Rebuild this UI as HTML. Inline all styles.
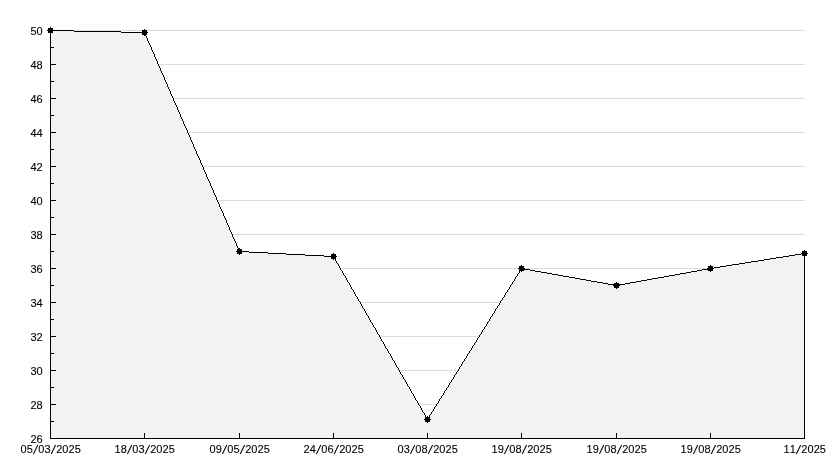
<!DOCTYPE html>
<html><head><meta charset="utf-8"><title>Chart</title>
<style>
html,body{margin:0;padding:0;background:#fff;}
body{width:834px;height:468px;overflow:hidden;}
svg{display:block;will-change:transform;}
text{font-family:"Liberation Sans",sans-serif;font-size:11px;fill:#000;stroke:#000;stroke-width:0.1px;}
</style></head><body>
<svg width="834" height="468" viewBox="0 0 834 468">
<rect x="0" y="0" width="834" height="468" fill="#ffffff"/>
<g fill="#dcdcdc" shape-rendering="crispEdges">
<rect x="50" y="404" width="755" height="1"/>
<rect x="50" y="370" width="755" height="1"/>
<rect x="50" y="336" width="755" height="1"/>
<rect x="50" y="302" width="755" height="1"/>
<rect x="50" y="268" width="755" height="1"/>
<rect x="50" y="234" width="755" height="1"/>
<rect x="50" y="200" width="755" height="1"/>
<rect x="50" y="166" width="755" height="1"/>
<rect x="50" y="132" width="755" height="1"/>
<rect x="50" y="98" width="755" height="1"/>
<rect x="50" y="64" width="755" height="1"/>
<rect x="50" y="30" width="755" height="1"/>
</g>
<polygon points="50.5,30.5 144.5,32.5 239.5,251.5 333.5,256.5 427.5,419.5 521.5,268.5 616.5,285.5 710.5,268.5 804.5,253.5 804.5,438.5 50.5,438.5" fill="#f2f2f2" stroke="none" shape-rendering="crispEdges"/>
<g fill="#000" shape-rendering="crispEdges">
<rect x="804" y="253" width="1" height="186"/>
<rect x="50" y="30" width="1" height="409"/>
<rect x="50" y="438" width="755" height="1"/>
<rect x="51" y="438" width="5" height="1"/>
<rect x="51" y="421" width="3" height="1"/>
<rect x="51" y="404" width="5" height="1"/>
<rect x="51" y="387" width="3" height="1"/>
<rect x="51" y="370" width="5" height="1"/>
<rect x="51" y="353" width="3" height="1"/>
<rect x="51" y="336" width="5" height="1"/>
<rect x="51" y="319" width="3" height="1"/>
<rect x="51" y="302" width="5" height="1"/>
<rect x="51" y="285" width="3" height="1"/>
<rect x="51" y="268" width="5" height="1"/>
<rect x="51" y="251" width="3" height="1"/>
<rect x="51" y="234" width="5" height="1"/>
<rect x="51" y="217" width="3" height="1"/>
<rect x="51" y="200" width="5" height="1"/>
<rect x="51" y="183" width="3" height="1"/>
<rect x="51" y="166" width="5" height="1"/>
<rect x="51" y="149" width="3" height="1"/>
<rect x="51" y="132" width="5" height="1"/>
<rect x="51" y="115" width="3" height="1"/>
<rect x="51" y="98" width="5" height="1"/>
<rect x="51" y="81" width="3" height="1"/>
<rect x="51" y="64" width="5" height="1"/>
<rect x="51" y="47" width="3" height="1"/>
<rect x="51" y="30" width="5" height="1"/>
<rect x="144" y="433" width="1" height="5"/>
<rect x="239" y="433" width="1" height="5"/>
<rect x="333" y="433" width="1" height="5"/>
<rect x="427" y="433" width="1" height="5"/>
<rect x="521" y="433" width="1" height="5"/>
<rect x="616" y="433" width="1" height="5"/>
<rect x="710" y="433" width="1" height="5"/>
</g>
<path fill="#000" shape-rendering="crispEdges" d="M50 30h24v1h-24zM74 31h47v1h-47zM121 32h24v1h-24zM239 251h10v1h-10zM249 252h19v1h-19zM268 253h18v1h-18zM801 253h4v1h-4zM286 254h19v1h-19zM795 254h6v1h-6zM305 255h19v1h-19zM789 255h6v1h-6zM324 256h10v1h-10zM783 256h6v1h-6zM776 257h7v1h-7zM770 258h6v1h-6zM764 259h6v1h-6zM758 260h6v1h-6zM751 261h7v1h-7zM745 262h6v1h-6zM739 263h6v1h-6zM732 264h7v1h-7zM726 265h6v1h-6zM720 266h6v1h-6zM714 267h6v1h-6zM521 268h3v1h-3zM708 268h6v1h-6zM524 269h6v1h-6zM702 269h6v1h-6zM530 270h5v1h-5zM697 270h5v1h-5zM535 271h6v1h-6zM691 271h6v1h-6zM541 272h6v1h-6zM686 272h5v1h-5zM547 273h5v1h-5zM680 273h6v1h-6zM552 274h6v1h-6zM675 274h5v1h-5zM558 275h5v1h-5zM669 275h6v1h-6zM563 276h6v1h-6zM664 276h5v1h-5zM569 277h6v1h-6zM658 277h6v1h-6zM575 278h5v1h-5zM652 278h6v1h-6zM580 279h6v1h-6zM647 279h5v1h-5zM586 280h5v1h-5zM641 280h6v1h-6zM591 281h6v1h-6zM636 281h5v1h-5zM597 282h6v1h-6zM630 282h6v1h-6zM603 283h5v1h-5zM625 283h5v1h-5zM608 284h6v1h-6zM619 284h6v1h-6zM614 285h5v1h-5zM144 33h1v1h-1zM145 34h1v2h-1zM146 36h1v2h-1zM147 38h1v3h-1zM148 41h1v2h-1zM149 43h1v2h-1zM150 45h1v2h-1zM151 47h1v3h-1zM152 50h1v2h-1zM153 52h1v2h-1zM154 54h1v3h-1zM155 57h1v2h-1zM156 59h1v2h-1zM157 61h1v3h-1zM158 64h1v2h-1zM159 66h1v2h-1zM160 68h1v3h-1zM161 71h1v2h-1zM162 73h1v2h-1zM163 75h1v2h-1zM164 77h1v3h-1zM165 80h1v2h-1zM166 82h1v2h-1zM167 84h1v3h-1zM168 87h1v2h-1zM169 89h1v2h-1zM170 91h1v3h-1zM171 94h1v2h-1zM172 96h1v2h-1zM173 98h1v3h-1zM174 101h1v2h-1zM175 103h1v2h-1zM176 105h1v2h-1zM177 107h1v3h-1zM178 110h1v2h-1zM179 112h1v2h-1zM180 114h1v3h-1zM181 117h1v2h-1zM182 119h1v2h-1zM183 121h1v3h-1zM184 124h1v2h-1zM185 126h1v2h-1zM186 128h1v2h-1zM187 130h1v3h-1zM188 133h1v2h-1zM189 135h1v2h-1zM190 137h1v3h-1zM191 140h1v2h-1zM192 142h1v2h-1zM193 144h1v3h-1zM194 147h1v2h-1zM195 149h1v2h-1zM196 151h1v3h-1zM197 154h1v2h-1zM198 156h1v2h-1zM199 158h1v2h-1zM200 160h1v3h-1zM201 163h1v2h-1zM202 165h1v2h-1zM203 167h1v3h-1zM204 170h1v2h-1zM205 172h1v2h-1zM206 174h1v3h-1zM207 177h1v2h-1zM208 179h1v2h-1zM209 181h1v2h-1zM210 183h1v3h-1zM211 186h1v2h-1zM212 188h1v2h-1zM213 190h1v3h-1zM214 193h1v2h-1zM215 195h1v2h-1zM216 197h1v3h-1zM217 200h1v2h-1zM218 202h1v2h-1zM219 204h1v3h-1zM220 207h1v2h-1zM221 209h1v2h-1zM222 211h1v2h-1zM223 213h1v3h-1zM224 216h1v2h-1zM225 218h1v2h-1zM226 220h1v3h-1zM227 223h1v2h-1zM228 225h1v2h-1zM229 227h1v3h-1zM230 230h1v2h-1zM231 232h1v2h-1zM232 234h1v3h-1zM233 237h1v2h-1zM234 239h1v2h-1zM235 241h1v2h-1zM236 243h1v3h-1zM237 246h1v2h-1zM238 248h1v2h-1zM239 250h1v1h-1zM334 257h1v2h-1zM335 259h1v2h-1zM336 261h1v2h-1zM337 263h1v1h-1zM338 264h1v2h-1zM339 266h1v2h-1zM340 268h1v2h-1zM341 270h1v1h-1zM342 271h1v2h-1zM343 273h1v2h-1zM344 275h1v1h-1zM345 276h1v2h-1zM346 278h1v2h-1zM347 280h1v2h-1zM348 282h1v1h-1zM349 283h1v2h-1zM350 285h1v2h-1zM351 287h1v2h-1zM352 289h1v1h-1zM353 290h1v2h-1zM354 292h1v2h-1zM355 294h1v2h-1zM356 296h1v1h-1zM357 297h1v2h-1zM358 299h1v2h-1zM359 301h1v1h-1zM360 302h1v2h-1zM361 304h1v2h-1zM362 306h1v2h-1zM363 308h1v1h-1zM364 309h1v2h-1zM365 311h1v2h-1zM366 313h1v2h-1zM367 315h1v1h-1zM368 316h1v2h-1zM369 318h1v2h-1zM370 320h1v2h-1zM371 322h1v1h-1zM372 323h1v2h-1zM373 325h1v2h-1zM374 327h1v1h-1zM375 328h1v2h-1zM376 330h1v2h-1zM377 332h1v2h-1zM378 334h1v1h-1zM379 335h1v2h-1zM380 337h1v2h-1zM381 339h1v2h-1zM382 341h1v1h-1zM383 342h1v2h-1zM384 344h1v2h-1zM385 346h1v2h-1zM386 348h1v1h-1zM387 349h1v2h-1zM388 351h1v2h-1zM389 353h1v1h-1zM390 354h1v2h-1zM391 356h1v2h-1zM392 358h1v2h-1zM393 360h1v1h-1zM394 361h1v2h-1zM395 363h1v2h-1zM396 365h1v2h-1zM397 367h1v1h-1zM398 368h1v2h-1zM399 370h1v2h-1zM400 372h1v2h-1zM401 374h1v1h-1zM402 375h1v2h-1zM403 377h1v2h-1zM404 379h1v1h-1zM405 380h1v2h-1zM406 382h1v2h-1zM407 384h1v2h-1zM408 386h1v1h-1zM409 387h1v2h-1zM410 389h1v2h-1zM411 391h1v2h-1zM412 393h1v1h-1zM413 394h1v2h-1zM414 396h1v2h-1zM415 398h1v2h-1zM416 400h1v1h-1zM417 401h1v2h-1zM418 403h1v2h-1zM419 405h1v1h-1zM420 406h1v2h-1zM421 408h1v2h-1zM422 410h1v2h-1zM423 412h1v1h-1zM424 413h1v2h-1zM425 415h1v2h-1zM426 417h1v2h-1zM427 419h1v1h-1zM428 417h1v2h-1zM429 415h1v2h-1zM430 414h1v1h-1zM431 412h1v2h-1zM432 411h1v1h-1zM433 409h1v2h-1zM434 407h1v2h-1zM435 406h1v1h-1zM436 404h1v2h-1zM437 403h1v1h-1zM438 401h1v2h-1zM439 399h1v2h-1zM440 398h1v1h-1zM441 396h1v2h-1zM442 395h1v1h-1zM443 393h1v2h-1zM444 391h1v2h-1zM445 390h1v1h-1zM446 388h1v2h-1zM447 387h1v1h-1zM448 385h1v2h-1zM449 383h1v2h-1zM450 382h1v1h-1zM451 380h1v2h-1zM452 379h1v1h-1zM453 377h1v2h-1zM454 375h1v2h-1zM455 374h1v1h-1zM456 372h1v2h-1zM457 371h1v1h-1zM458 369h1v2h-1zM459 367h1v2h-1zM460 366h1v1h-1zM461 364h1v2h-1zM462 362h1v2h-1zM463 361h1v1h-1zM464 359h1v2h-1zM465 358h1v1h-1zM466 356h1v2h-1zM467 354h1v2h-1zM468 353h1v1h-1zM469 351h1v2h-1zM470 350h1v1h-1zM471 348h1v2h-1zM472 346h1v2h-1zM473 345h1v1h-1zM474 343h1v2h-1zM475 342h1v1h-1zM476 340h1v2h-1zM477 338h1v2h-1zM478 337h1v1h-1zM479 335h1v2h-1zM480 334h1v1h-1zM481 332h1v2h-1zM482 330h1v2h-1zM483 329h1v1h-1zM484 327h1v2h-1zM485 326h1v1h-1zM486 324h1v2h-1zM487 322h1v2h-1zM488 321h1v1h-1zM489 319h1v2h-1zM490 317h1v2h-1zM491 316h1v1h-1zM492 314h1v2h-1zM493 313h1v1h-1zM494 311h1v2h-1zM495 309h1v2h-1zM496 308h1v1h-1zM497 306h1v2h-1zM498 305h1v1h-1zM499 303h1v2h-1zM500 301h1v2h-1zM501 300h1v1h-1zM502 298h1v2h-1zM503 297h1v1h-1zM504 295h1v2h-1zM505 293h1v2h-1zM506 292h1v1h-1zM507 290h1v2h-1zM508 289h1v1h-1zM509 287h1v2h-1zM510 285h1v2h-1zM511 284h1v1h-1zM512 282h1v2h-1zM513 281h1v1h-1zM514 279h1v2h-1zM515 277h1v2h-1zM516 276h1v1h-1zM517 274h1v2h-1zM518 273h1v1h-1zM519 271h1v2h-1zM520 269h1v2h-1z"/>
<g fill="#000" shape-rendering="crispEdges">
<rect x="48" y="28" width="5" height="5"/><rect x="47" y="30" width="7" height="1"/><rect x="50" y="27" width="1" height="7"/>
<rect x="142" y="30" width="5" height="5"/><rect x="141" y="32" width="7" height="1"/><rect x="144" y="29" width="1" height="7"/>
<rect x="237" y="249" width="5" height="5"/><rect x="236" y="251" width="7" height="1"/><rect x="239" y="248" width="1" height="7"/>
<rect x="331" y="254" width="5" height="5"/><rect x="330" y="256" width="7" height="1"/><rect x="333" y="253" width="1" height="7"/>
<rect x="425" y="417" width="5" height="5"/><rect x="424" y="419" width="7" height="1"/><rect x="427" y="416" width="1" height="7"/>
<rect x="519" y="266" width="5" height="5"/><rect x="518" y="268" width="7" height="1"/><rect x="521" y="265" width="1" height="7"/>
<rect x="614" y="283" width="5" height="5"/><rect x="613" y="285" width="7" height="1"/><rect x="616" y="282" width="1" height="7"/>
<rect x="708" y="266" width="5" height="5"/><rect x="707" y="268" width="7" height="1"/><rect x="710" y="265" width="1" height="7"/>
<rect x="802" y="251" width="5" height="5"/><rect x="801" y="253" width="7" height="1"/><rect x="804" y="250" width="1" height="7"/>
</g>
<text x="30.44 36.44" y="443.0">26</text>
<text x="30.44 36.44" y="409.0">28</text>
<text x="30.44 36.44" y="375.0">30</text>
<text x="30.44 36.44" y="341.0">32</text>
<text x="30.44 36.44" y="307.0">34</text>
<text x="30.44 36.44" y="273.0">36</text>
<text x="30.44 36.44" y="239.0">38</text>
<text x="30.44 36.44" y="205.0">40</text>
<text x="30.44 36.44" y="171.0">42</text>
<text x="30.44 36.44" y="137.0">44</text>
<text x="30.44 36.44" y="103.0">46</text>
<text x="30.44 36.44" y="69.0">48</text>
<text x="30.44 36.44" y="35.0">50</text>
<text x="20.54 26.74 38.34 44.54 56.14 62.34 68.54 74.74" y="453.0">05032025</text><line x1="33.45" y1="453.90" x2="37.75" y2="445.00" stroke="#000" stroke-width="1.05"/><line x1="51.25" y1="453.90" x2="55.55" y2="445.00" stroke="#000" stroke-width="1.05"/>
<text x="114.54 120.74 132.34 138.54 150.14 156.34 162.54 168.74" y="453.0">18032025</text><line x1="127.45" y1="453.90" x2="131.75" y2="445.00" stroke="#000" stroke-width="1.05"/><line x1="145.25" y1="453.90" x2="149.55" y2="445.00" stroke="#000" stroke-width="1.05"/>
<text x="209.54 215.74 227.34 233.54 245.14 251.34 257.54 263.74" y="453.0">09052025</text><line x1="222.45" y1="453.90" x2="226.75" y2="445.00" stroke="#000" stroke-width="1.05"/><line x1="240.25" y1="453.90" x2="244.55" y2="445.00" stroke="#000" stroke-width="1.05"/>
<text x="303.54 309.74 321.34 327.54 339.14 345.34 351.54 357.74" y="453.0">24062025</text><line x1="316.45" y1="453.90" x2="320.75" y2="445.00" stroke="#000" stroke-width="1.05"/><line x1="334.25" y1="453.90" x2="338.55" y2="445.00" stroke="#000" stroke-width="1.05"/>
<text x="397.54 403.74 415.34 421.54 433.14 439.34 445.54 451.74" y="453.0">03082025</text><line x1="410.45" y1="453.90" x2="414.75" y2="445.00" stroke="#000" stroke-width="1.05"/><line x1="428.25" y1="453.90" x2="432.55" y2="445.00" stroke="#000" stroke-width="1.05"/>
<text x="491.54 497.74 509.34 515.54 527.14 533.34 539.54 545.74" y="453.0">19082025</text><line x1="504.45" y1="453.90" x2="508.75" y2="445.00" stroke="#000" stroke-width="1.05"/><line x1="522.25" y1="453.90" x2="526.55" y2="445.00" stroke="#000" stroke-width="1.05"/>
<text x="586.54 592.74 604.34 610.54 622.14 628.34 634.54 640.74" y="453.0">19082025</text><line x1="599.45" y1="453.90" x2="603.75" y2="445.00" stroke="#000" stroke-width="1.05"/><line x1="617.25" y1="453.90" x2="621.55" y2="445.00" stroke="#000" stroke-width="1.05"/>
<text x="680.54 686.74 698.34 704.54 716.14 722.34 728.54 734.74" y="453.0">19082025</text><line x1="693.45" y1="453.90" x2="697.75" y2="445.00" stroke="#000" stroke-width="1.05"/><line x1="711.25" y1="453.90" x2="715.55" y2="445.00" stroke="#000" stroke-width="1.05"/>
<text x="783.44 789.64 801.24 807.44 813.64 819.84" y="453.0">112025</text><line x1="796.35" y1="453.90" x2="800.65" y2="445.00" stroke="#000" stroke-width="1.05"/>
</svg>
</body></html>
